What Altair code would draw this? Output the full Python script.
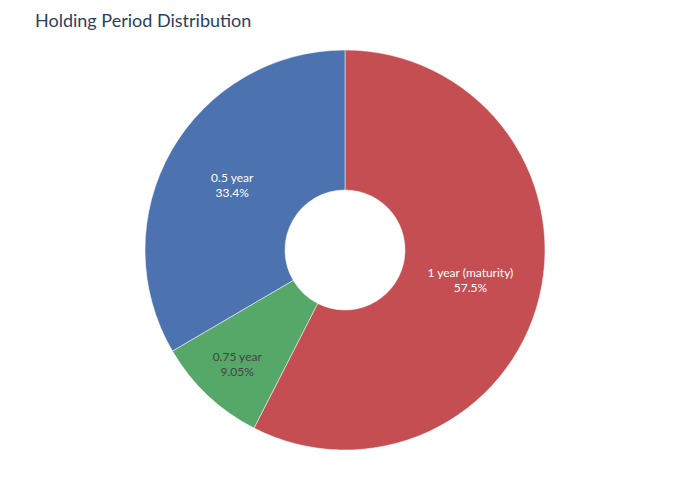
import altair as alt
import pandas as pd

labels = ["1 year (maturity)", "0.75 year", "0.5 year"]
values = [57.5, 9.05, 33.42]
colors = ["#c44e52", "#55a868", "#4c72b0"]
text_colors = ["#ffffff", "#444444", "#ffffff"]
label_radius = [129, 157, 130]
order = [0, 1, 2]
title_text = "Holding Period Distribution"

df = pd.DataFrame({"label": labels, "value": values, "order": order,
                   "tcolor": text_colors, "lr": label_radius})

FONT = "Lato"
CX, CY = 337, 202

base = alt.Chart(df).transform_joinaggregate(total="sum(value)").transform_window(
    cum="sum(value)", sort=[alt.SortField("order")], frame=[None, 0]
).transform_calculate(
    pct="format(datum.value / datum.total, '.3~p')",
    txt="[datum.label, datum.pct]",
    mid="(datum.cum - datum.value / 2) / datum.total * 2 * PI",
)

arcs = base.mark_arc(outerRadius=200, innerRadius=60, stroke="#ffffff", strokeWidth=0.5).encode(
    theta=alt.Theta("value:Q", stack=True),
    order=alt.Order("order:Q"),
    color=alt.Color("label:N", scale=alt.Scale(domain=labels, range=colors), legend=None),
    x=alt.value(CX),
    y=alt.value(CY),
)

text = base.mark_text(font=FONT, fontSize=12, align="center", baseline="middle",
                      lineHeight=15, dy=-7).encode(
    theta=alt.Theta("mid:Q", scale=None),
    radius=alt.Radius("lr:Q", scale=None),
    text="txt:N",
    color=alt.Color("tcolor:N", scale=None),
    x=alt.value(CX),
    y=alt.value(CY),
)

chart = alt.layer(arcs, text).properties(
    width=684,
    height=444,
    autosize=alt.AutoSizeParams(type="none"),
    padding={"left": 0, "top": 40, "right": 0, "bottom": 0},
    title=alt.TitleParams(title_text, anchor="start", frame="group", dx=27, offset=17,
                          fontSize=18, font=FONT, fontWeight="normal", color="#2a3f5f"),
).configure_view(stroke=None)

chart.save("out.html", embed_options={"renderer": "svg", "actions": False})
